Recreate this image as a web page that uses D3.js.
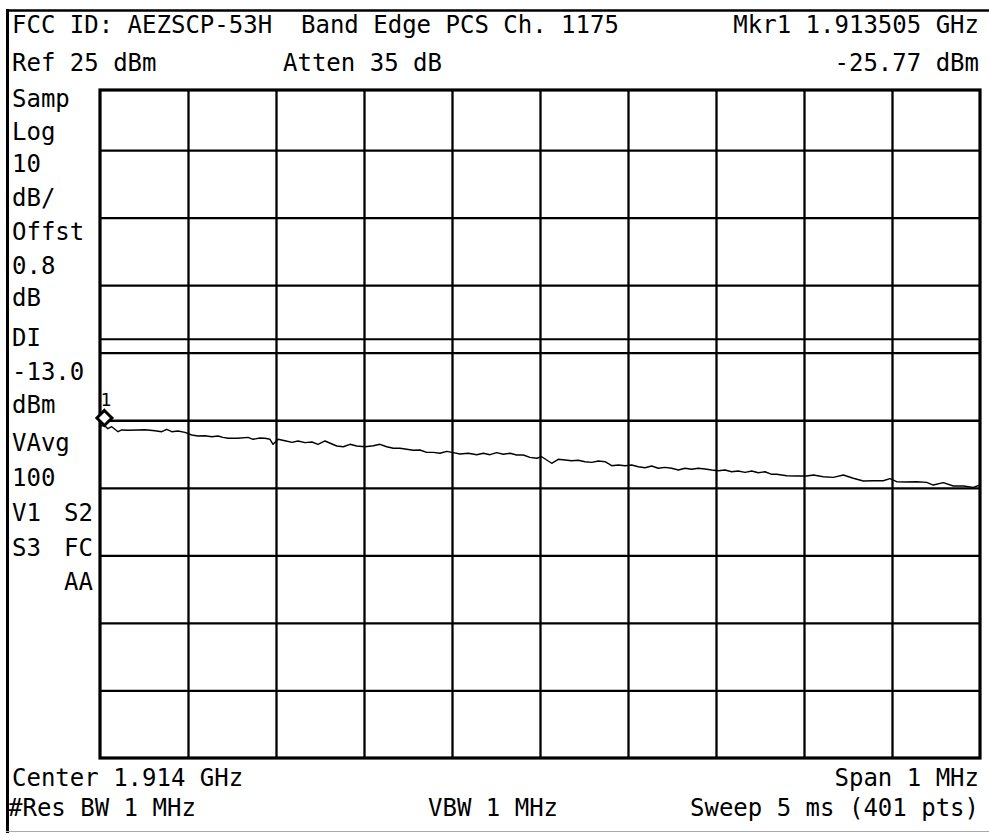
<!DOCTYPE html>
<html>
<head>
<meta charset="utf-8">
<script src="https://cdn.jsdelivr.net/npm/d3@7"></script>
<style>
  body { margin: 0; background: #fff; }
  svg text { font-family: "DejaVu Sans Mono", "Liberation Mono", monospace; font-size: 24px; fill: #000; white-space: pre; }
</style>
</head>
<body>
<svg id="chart" width="989" height="833"></svg>
<script>
// Swept trace: frequency (MHz) and level (dBm)
const freqMHz = [
  1913.5000, 1913.5050, 1913.5090, 1913.5133, 1913.5205, 1913.5247, 1913.5318, 1913.5432, 1913.5511,
  1913.5625, 1913.5701, 1913.5758, 1913.5815, 1913.5886, 1913.5966, 1913.6042, 1913.6114, 1913.6193,
  1913.6269, 1913.6341, 1913.6398, 1913.6455, 1913.6568, 1913.6682, 1913.6739, 1913.6818, 1913.6875,
  1913.6932, 1913.6966, 1913.7023, 1913.7102, 1913.7182, 1913.7250, 1913.7330, 1913.7409, 1913.7477,
  1913.7557, 1913.7690, 1913.7765, 1913.7841, 1913.7917, 1913.8011, 1913.8106, 1913.8182, 1913.8258,
  1913.8333, 1913.8409, 1913.8485, 1913.8560, 1913.8636, 1913.8713, 1913.8788, 1913.8864, 1913.8940,
  1913.9015, 1913.9091, 1913.9185, 1913.9281, 1913.9356, 1913.9432, 1913.9508, 1913.9583, 1913.9659,
  1913.9735, 1913.9810, 1913.9886, 1913.9962, 1914.0019, 1914.0133, 1914.0208, 1914.0284, 1914.0360,
  1914.0435, 1914.0511, 1914.0588, 1914.0663, 1914.0739, 1914.0815, 1914.0890, 1914.0966, 1914.1042,
  1914.1117, 1914.1193, 1914.1269, 1914.1344, 1914.1420, 1914.1497, 1914.1572, 1914.1648, 1914.1724,
  1914.1799, 1914.1875, 1914.1951, 1914.2026, 1914.2102, 1914.2178, 1914.2253, 1914.2330, 1914.2406,
  1914.2481, 1914.2557, 1914.2633, 1914.2690, 1914.2803, 1914.2917, 1914.3031, 1914.3106, 1914.3219,
  1914.3333, 1914.3447, 1914.3560, 1914.3674, 1914.3788, 1914.3901, 1914.3977, 1914.4053, 1914.4167,
  1914.4281, 1914.4394, 1914.4469, 1914.4583, 1914.4697, 1914.4811, 1914.4924, 1914.5000
];
const levelDbm = [
  -25.85, -25.77, -26.25, -25.96, -26.70, -26.44, -26.49, -26.44, -26.40,
  -26.55, -26.70, -26.34, -26.70, -26.59, -26.79, -27.18, -27.33, -27.29,
  -27.44, -27.33, -27.53, -27.67, -27.67, -27.53, -27.82, -27.63, -27.67,
  -27.82, -28.56, -27.82, -28.03, -28.27, -28.07, -28.32, -28.22, -28.56,
  -28.07, -28.81, -28.92, -28.56, -28.81, -28.92, -28.77, -28.56, -28.92,
  -29.15, -29.15, -29.30, -29.45, -29.40, -29.75, -29.75, -29.89, -29.60,
  -29.80, -30.00, -29.89, -30.10, -29.89, -30.10, -29.80, -30.04, -29.89,
  -30.14, -30.14, -30.49, -30.63, -30.40, -31.37, -30.78, -30.89, -30.99,
  -30.93, -31.14, -31.23, -31.03, -31.14, -31.73, -31.63, -31.73, -31.63,
  -31.88, -32.03, -31.77, -32.11, -31.97, -32.11, -32.37, -32.11, -32.26,
  -32.11, -32.22, -32.37, -32.47, -32.37, -32.62, -32.51, -32.71, -32.51,
  -32.77, -32.62, -33.00, -33.00, -33.21, -33.25, -33.25, -33.11, -33.36,
  -33.45, -33.11, -33.59, -33.99, -33.95, -33.95, -33.65, -34.10, -34.14,
  -34.10, -34.19, -34.59, -34.23, -34.73, -34.73, -34.93, -34.59
];

// Instrument settings
const refLevelDbm = 25;
const dbPerDiv = 10;
const verticalDivs = 10;
const startMHz = 1913.5;
const stopMHz = 1914.5;
const displayLineDbm = -13.0;
const markerFreqMHz = 1913.505;
const markerLevelDbm = -25.77;

// Graticule lines
const levelGridDbm = [15, 5, -5, -15, -25, -35, -45, -55, -65];
const freqGridMHz = [1913.6, 1913.7, 1913.8, 1913.9, 1914.0, 1914.1, 1914.2, 1914.3, 1914.4];

// Annotation text
const headerLeft = ["FCC ID: AEZSCP-53H  Band Edge PCS Ch. 1175", "Ref 25 dBm"];
const headerMid = "Atten 35 dB";
const headerRight = ["Mkr1 1.913505 GHz", "-25.77 dBm"];
const sideLabels = ["Samp", "Log", "10", "dB/", "Offst", "0.8", "dB", "DI", "-13.0", "dBm", "VAvg", "100"];
const sideBaselines = [107, 140, 172, 206, 240, 274, 306, 346, 380, 413, 451, 486];
const sidePairsLeft = ["V1", "S3", ""];
const sidePairsRight = ["S2", "FC", "AA"];
const sidePairBaselines = [521, 556, 590];
const footer = { center: "Center 1.914 GHz", span: "Span 1 MHz", rbw: "#Res BW 1 MHz", vbw: "VBW 1 MHz", sweep: "Sweep 5 ms (401 pts)" };

const svg = d3.select("#chart");
const W = 989, H = 833;
const plot = { left: 100, right: 980, top: 90, bottom: 758 };

const x = d3.scaleLinear().domain([startMHz, stopMHz]).range([plot.left, plot.right]);
const y = d3.scaleLinear()
  .domain([refLevelDbm, refLevelDbm - dbPerDiv * verticalDivs])
  .range([82.5, plot.bottom]);

svg.append("rect").attr("width", W).attr("height", H).attr("fill", "#fff");

// Outer screen frame
svg.append("line").attr("x1", 6).attr("x2", W).attr("y1", 10.5).attr("y2", 10.5)
  .attr("stroke", "#000").attr("stroke-width", 2.5);
svg.append("line").attr("x1", 7.5).attr("x2", 7.5).attr("y1", 9).attr("y2", H)
  .attr("stroke", "#000").attr("stroke-width", 3);
svg.append("line").attr("x1", 6).attr("x2", W).attr("y1", 831.5).attr("y2", 831.5)
  .attr("stroke", "#aaa").attr("stroke-width", 1);

// Graticule via axes with full-length ticks
const gY = svg.append("g").attr("transform", `translate(${plot.left},0)`)
  .call(d3.axisLeft(y).tickValues(levelGridDbm).tickSize(-(plot.right - plot.left)).tickFormat(""));
const gX = svg.append("g").attr("transform", `translate(0,${plot.bottom})`)
  .call(d3.axisBottom(x).tickValues(freqGridMHz).tickSize(-(plot.bottom - plot.top)).tickFormat(""));
[gX, gY].forEach(g => {
  g.select(".domain").remove();
  g.selectAll(".tick line").attr("stroke", "#000").attr("stroke-width", 2.3);
});

// Display line
svg.append("line")
  .attr("x1", plot.left).attr("x2", plot.right)
  .attr("y1", y(displayLineDbm)).attr("y2", y(displayLineDbm))
  .attr("stroke", "#000").attr("stroke-width", 2);

// Trace
const traceData = freqMHz.map((f, i) => ({ f, v: levelDbm[i] }));
svg.append("path")
  .datum(traceData)
  .attr("fill", "none")
  .attr("stroke", "#000")
  .attr("stroke-width", 1.4)
  .attr("stroke-linejoin", "round")
  .attr("d", d3.line().x(d => x(d.f)).y(d => y(d.v)));

// Graticule border
svg.append("rect")
  .attr("x", plot.left).attr("y", plot.top)
  .attr("width", plot.right - plot.left).attr("height", plot.bottom - plot.top)
  .attr("fill", "none").attr("stroke", "#000").attr("stroke-width", 3.2);

// Marker 1: diamond resting on the trace point, with its number above
const mx = x(markerFreqMHz), my = y(markerLevelDbm);
svg.append("path")
  .attr("d", `M${mx},${my - 15} L${mx + 7.5},${my - 7.5} L${mx},${my} L${mx - 7.5},${my - 7.5} Z`)
  .attr("fill", "#fff").attr("stroke", "#000").attr("stroke-width", 3);
svg.append("text").attr("x", mx - 4).attr("y", my - 19)
  .style("font-size", "18px").text("1");

// Header
svg.append("text").attr("x", 12).attr("y", 33).text(headerLeft[0]);
svg.append("text").attr("x", 12).attr("y", 71).text(headerLeft[1]);
svg.append("text").attr("x", 283).attr("y", 71).text(headerMid);
svg.append("text").attr("x", 979).attr("y", 33).attr("text-anchor", "end").text(headerRight[0]);
svg.append("text").attr("x", 979).attr("y", 71).attr("text-anchor", "end").text(headerRight[1]);

// Side panel settings
svg.selectAll("text.side").data(sideLabels).enter().append("text")
  .attr("class", "side").attr("x", 12).attr("y", (d, i) => sideBaselines[i]).text(d => d);
svg.selectAll("text.sideL").data(sidePairsLeft).enter().append("text")
  .attr("class", "sideL").attr("x", 12).attr("y", (d, i) => sidePairBaselines[i]).text(d => d);
svg.selectAll("text.sideR").data(sidePairsRight).enter().append("text")
  .attr("class", "sideR").attr("x", 93).attr("text-anchor", "end")
  .attr("y", (d, i) => sidePairBaselines[i]).text(d => d);

// Footer
svg.append("text").attr("x", 12).attr("y", 786).text(footer.center);
svg.append("text").attr("x", 979).attr("y", 786).attr("text-anchor", "end").text(footer.span);
svg.append("text").attr("x", 8).attr("y", 816).text(footer.rbw);
svg.append("text").attr("x", 428).attr("y", 816).text(footer.vbw);
svg.append("text").attr("x", 979).attr("y", 816).attr("text-anchor", "end").text(footer.sweep);
</script>
</body>
</html>
